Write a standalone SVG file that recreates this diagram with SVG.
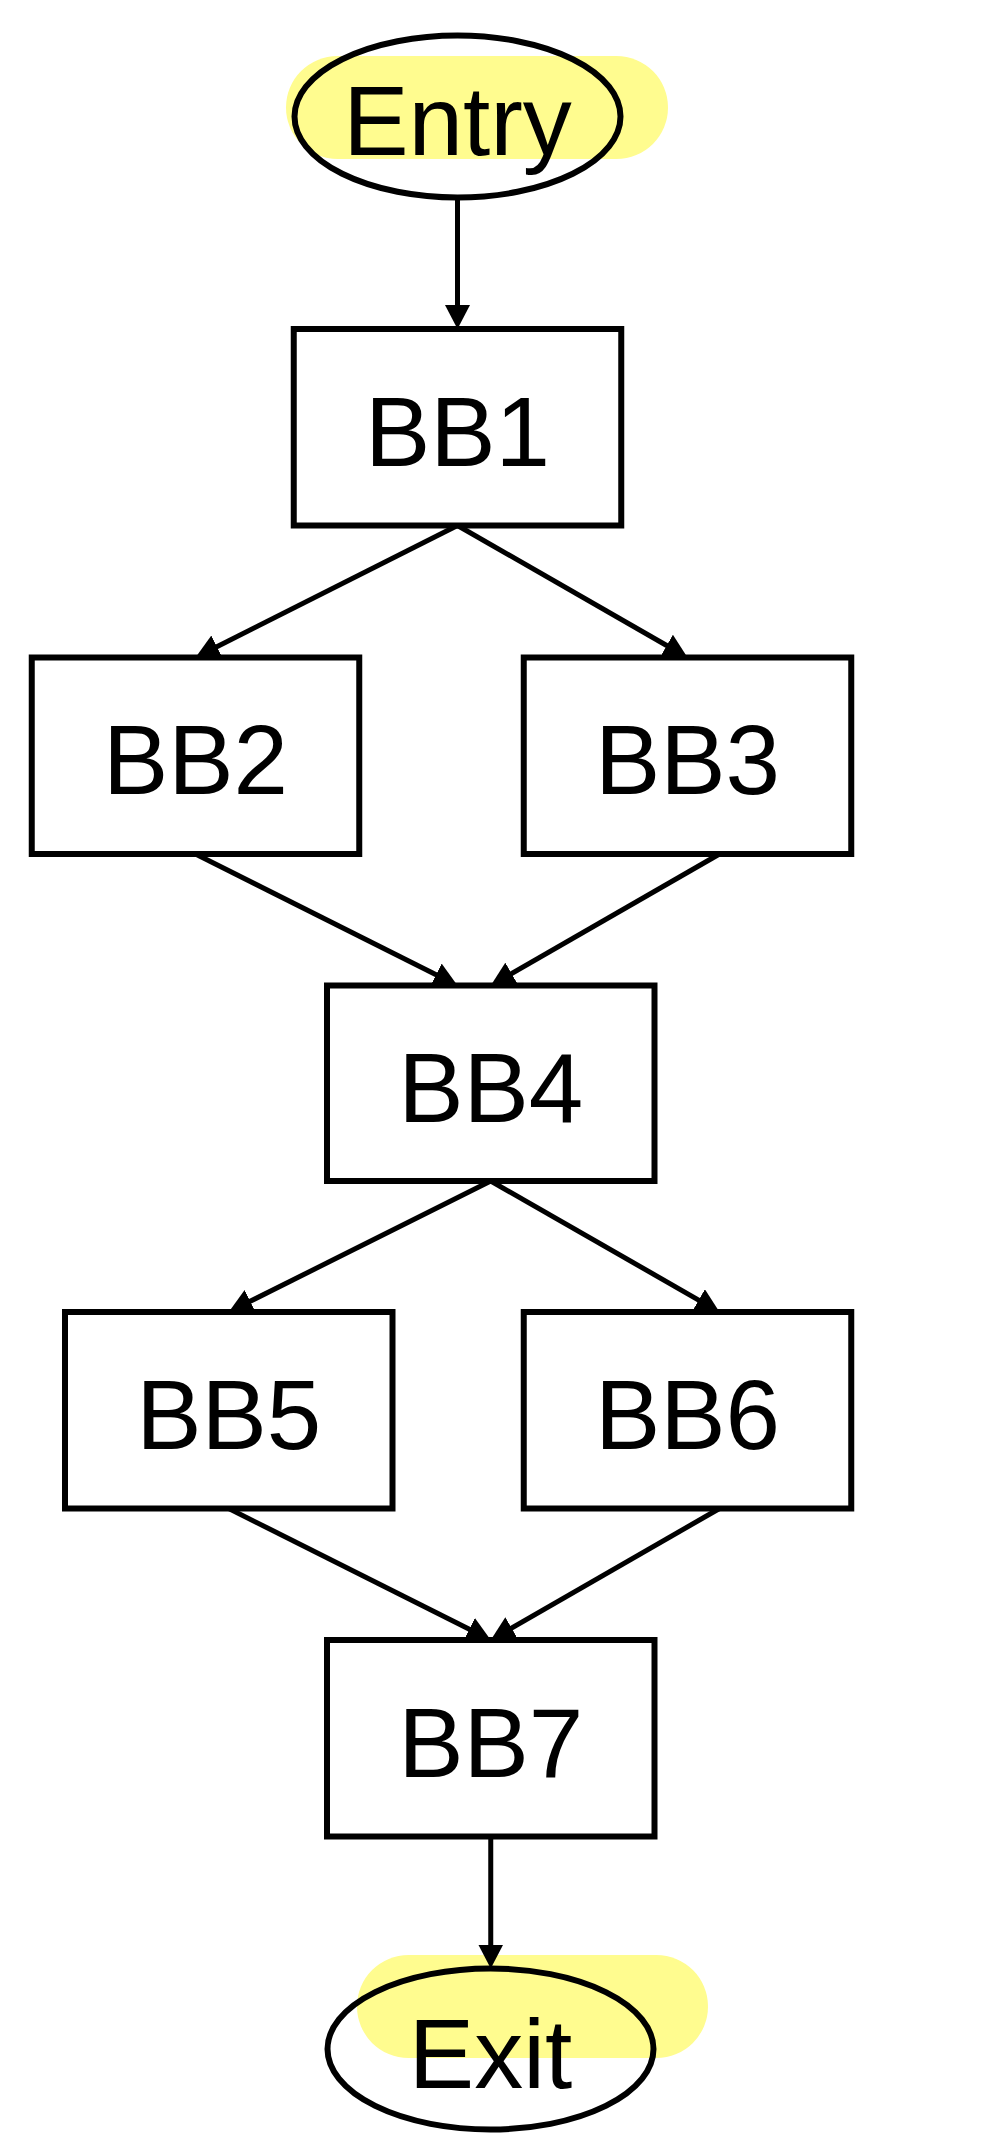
<svg xmlns="http://www.w3.org/2000/svg" width="1000" height="2141" viewBox="0 0 1000 2141">
<style>
.box{fill:#ffffff;stroke:#000000;stroke-width:6}
.oval{fill:none;stroke:#000000;stroke-width:6}
.hl{fill:#fffc8f;stroke:none}
.lbl{font-family:"Liberation Sans",Arial,sans-serif;font-size:98px;fill:#000000;text-anchor:middle}
.edge{fill:none;stroke:#000000;stroke-width:5}
</style>
<defs>
<marker id="arrow" markerUnits="userSpaceOnUse" markerWidth="25" markerHeight="25" refX="4" refY="12.5" orient="auto">
<path d="M0,0 L24,12.5 L0,25 z" fill="#000000"/>
</marker>
</defs>
<rect width="1000" height="2141" fill="#ffffff"/>
<g id="nodes">
<g id="entry">
<rect class="hl" x="286" y="56" width="382" height="103" rx="51.5" ry="51.5"/>
<ellipse class="oval" cx="457.5" cy="116.5" rx="163" ry="81"/>
<text class="lbl" x="457.5" y="155">Entry</text>
</g>
<g id="bb1">
<rect class="box" x="293.75" y="329" width="327.5" height="196.5"/>
<text class="lbl" x="457.5" y="465.75">BB1</text>
</g>
<g id="bb2">
<rect class="box" x="31.75" y="657.5" width="327.5" height="196.5"/>
<text class="lbl" x="195.5" y="794.25">BB2</text>
</g>
<g id="bb3">
<rect class="box" x="523.75" y="657.5" width="327.5" height="196.5"/>
<text class="lbl" x="687.5" y="794.25">BB3</text>
</g>
<g id="bb4">
<rect class="box" x="327" y="985.5" width="327.5" height="195.5"/>
<text class="lbl" x="490.75" y="1121.75">BB4</text>
</g>
<g id="bb5">
<rect class="box" x="65" y="1312" width="327.5" height="196.5"/>
<text class="lbl" x="228.75" y="1448.75">BB5</text>
</g>
<g id="bb6">
<rect class="box" x="523.75" y="1312" width="327.5" height="196.5"/>
<text class="lbl" x="687.5" y="1448.75">BB6</text>
</g>
<g id="bb7">
<rect class="box" x="327" y="1640" width="327.5" height="196.5"/>
<text class="lbl" x="490.75" y="1776.75">BB7</text>
</g>
<g id="exit">
<rect class="hl" x="357" y="1955" width="351" height="103" rx="51.5" ry="51.5"/>
<ellipse class="oval" cx="490.5" cy="2049" rx="163" ry="80.5"/>
<text class="lbl" x="490.5" y="2087.5">Exit</text>
</g>
</g>
<g id="connectors">
<path class="edge" marker-end="url(#arrow)" d="M457.5,197.5 L457.5,309"/>
<path class="edge" marker-end="url(#arrow)" d="M457.5,525.5 L213.36,648.5"/>
<path class="edge" marker-end="url(#arrow)" d="M457.5,525.5 L670.15,647.54"/>
<path class="edge" marker-end="url(#arrow)" d="M195.5,854 L439.63,976.53"/>
<path class="edge" marker-end="url(#arrow)" d="M719.5,854 L508.09,975.53"/>
<path class="edge" marker-end="url(#arrow)" d="M490.75,1181 L246.64,1303.06"/>
<path class="edge" marker-end="url(#arrow)" d="M490.75,1181 L702.14,1302.06"/>
<path class="edge" marker-end="url(#arrow)" d="M228.75,1508.5 L472.87,1631.04"/>
<path class="edge" marker-end="url(#arrow)" d="M719.5,1508.5 L508.09,1630.03"/>
<path class="edge" marker-end="url(#arrow)" d="M490.75,1836.5 L490.75,1948.5"/>
</g>
</svg>
